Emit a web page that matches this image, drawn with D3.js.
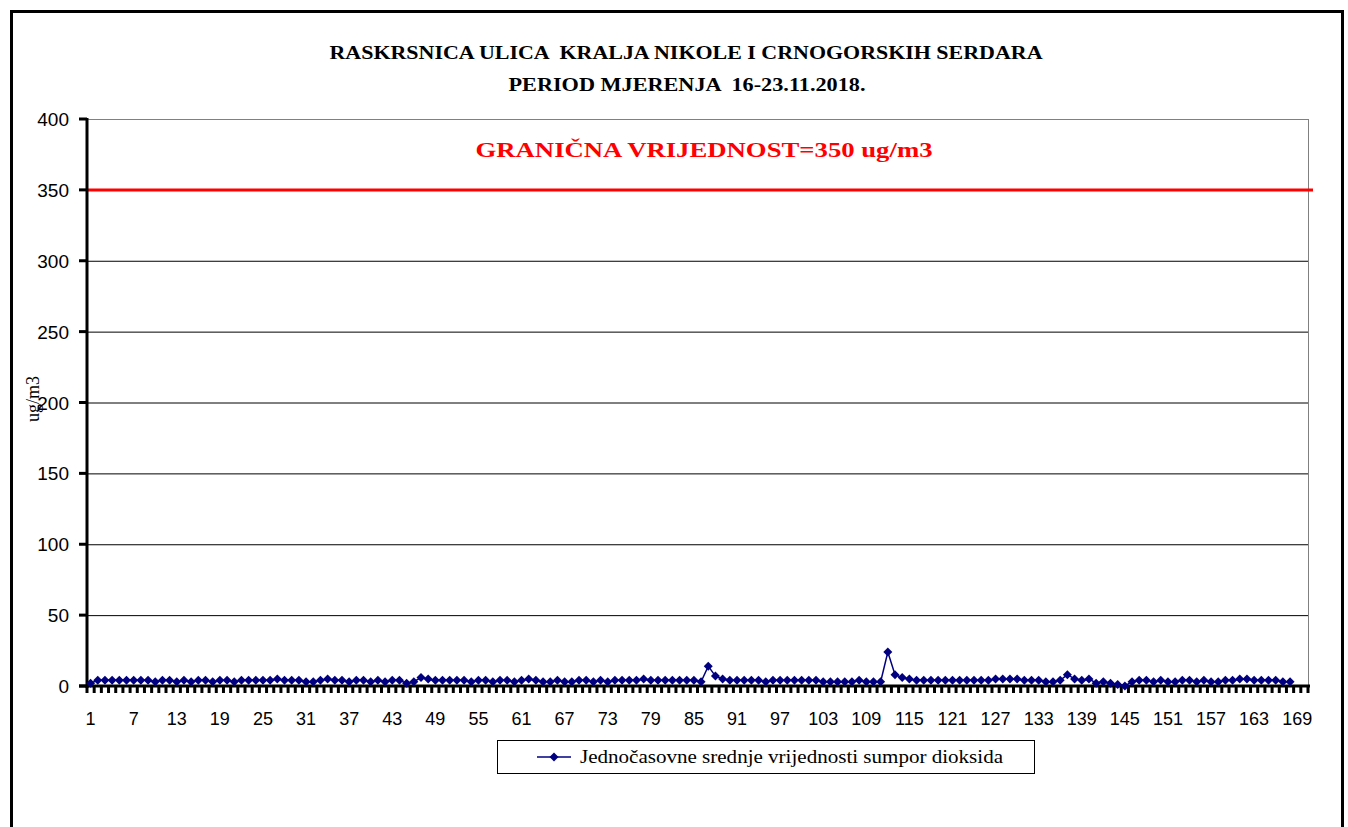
<!DOCTYPE html>
<html>
<head>
<meta charset="utf-8">
<script src="https://cdn.jsdelivr.net/npm/d3@7"></script>
<style>
body{margin:0;background:#fff}
svg{display:block}
</style>
</head>
<body>
<svg id="canvas" width="1348" height="827"></svg>
<script>
// hourly SO2 values, 16-23.11.2018 (168 hours)
let so2=[
 2,4,4,4,4,4,4,4,4,3,4,4,3,4,3,4,4,3,4,4,
 3,4,4,4,4,4,5,4,4,4,3,3,4,5,4,4,3,4,4,3,
 4,3,4,4,2,3,6,5,4,4,4,4,4,3,4,4,3,4,4,3,
 4,5,4,3,3,4,3,3,4,4,3,4,3,4,4,4,4,5,4,4,
 4,4,4,4,4,3,14,7,5,4,4,4,4,4,3,4,4,4,4,4,
 4,4,3,3,3,3,3,4,3,3,3,24,8,6,5,4,4,4,4,4,
 4,4,4,4,4,4,5,5,5,5,4,4,4,3,3,4,8,5,4,5,
 2,3,2,1,0,3,4,4,3,4,3,3,4,4,3,4,3,3,4,4,
 5,5,4,4,4,4,3,3
]
let categories=d3.range(1,171)
let xlabels=[1,7,13,19,25,31,37,43,49,55,61,67,73,79,85,91,97,103,109,115,121,127,133,139,145,151,157,163,169]
let yticks=[0,50,100,150,200,250,300,350,400]
let limit=350
let title1="RASKRSNICA ULICA  KRALJA NIKOLE I CRNOGORSKIH SERDARA"
let title2="PERIOD MJERENJA  16-23.11.2018."
let limitText="GRANIČNA VRIJEDNOST=350 ug/m3"
let seriesName="Jednočasovne srednje vrijednosti sumpor dioksida"

let canvas=d3.select("#canvas")
const plotLeft=87,plotRight=1308,plotTop=119,plotBottom=686
const navy="#000080"

let draw=()=>{
    canvas.append("rect").attr("width",1348).attr("height",827).attr("fill","#fff")
    // outer frame
    canvas.append("rect").attr("x",11.5).attr("y",11.5).attr("width",1331).attr("height",900)
          .attr("fill","none").attr("stroke","#000").attr("stroke-width",3)

    canvas.append("text").attr("x",686).attr("y",59).attr("text-anchor","middle")
          .attr("font-family","Liberation Serif").attr("font-weight","bold").attr("font-size",18)
          .attr("textLength",713).attr("lengthAdjust","spacingAndGlyphs").attr("xml:space","preserve")
          .text(title1)
    canvas.append("text").attr("x",687).attr("y",91).attr("text-anchor","middle")
          .attr("font-family","Liberation Serif").attr("font-weight","bold").attr("font-size",18)
          .attr("textLength",357).attr("lengthAdjust","spacingAndGlyphs").attr("xml:space","preserve")
          .text(title2)

    const x=d3.scaleBand().domain(categories).range([plotLeft,plotRight])
    const y=d3.scaleLinear().domain([0,400]).range([plotBottom,plotTop])

    // gridlines
    canvas.selectAll(".grid").data(yticks.filter(d=>d>0&&d<400)).enter().append("line")
          .attr("x1",plotLeft).attr("x2",plotRight).attr("y1",d=>y(d)+0.5).attr("y2",d=>y(d)+0.5)
          .attr("stroke","#000").attr("stroke-width",1)
    canvas.append("line").attr("x1",plotLeft).attr("x2",plotRight).attr("y1",y(400)+0.5).attr("y2",y(400)+0.5)
          .attr("stroke","#808080")
    canvas.append("line").attr("x1",plotRight+0.5).attr("x2",plotRight+0.5).attr("y1",plotTop).attr("y2",plotBottom)
          .attr("stroke","#808080")

    // limit line
    canvas.append("line").attr("x1",plotLeft).attr("x2",1313).attr("y1",y(limit)).attr("y2",y(limit))
          .attr("stroke","#ff0000").attr("stroke-width",3)
    canvas.append("text").attr("x",704).attr("y",157).attr("text-anchor","middle")
          .attr("font-family","Liberation Serif").attr("font-weight","bold").attr("font-size",22)
          .attr("fill","#ff0000").attr("textLength",457).attr("lengthAdjust","spacingAndGlyphs")
          .text(limitText)

    // y axis
    canvas.append("line").attr("x1",plotLeft).attr("x2",plotLeft).attr("y1",plotTop-1).attr("y2",plotBottom+2)
          .attr("stroke","#000").attr("stroke-width",3)
    canvas.selectAll(".ytick").data(yticks).enter().append("line")
          .attr("x1",79).attr("x2",plotLeft).attr("y1",d=>y(d)).attr("y2",d=>y(d))
          .attr("stroke","#000").attr("stroke-width",3)
    canvas.selectAll(".ylab").data(yticks).enter().append("text")
          .attr("x",69).attr("y",d=>y(d)+7).attr("text-anchor","end")
          .attr("font-family","Liberation Sans").attr("font-size",19)
          .text(d=>d)
    canvas.append("text").attr("transform","translate(39,399) rotate(-90)").attr("text-anchor","middle")
          .attr("font-family","Liberation Serif").attr("font-size",18).text("ug/m3")

    // x axis
    canvas.append("line").attr("x1",plotLeft-8).attr("x2",plotRight+2).attr("y1",plotBottom).attr("y2",plotBottom)
          .attr("stroke","#000").attr("stroke-width",3)
    let bounds=categories.map(c=>x(c)).concat([plotRight])
    canvas.selectAll(".xtick").data(bounds).enter().append("line")
          .attr("x1",d=>d).attr("x2",d=>d).attr("y1",plotBottom).attr("y2",plotBottom+7)
          .attr("stroke","#000").attr("stroke-width",3)
    canvas.selectAll(".xlab").data(xlabels).enter().append("text")
          .attr("x",d=>x(d)+x.bandwidth()/2).attr("y",725).attr("text-anchor","middle")
          .attr("font-family","Liberation Sans").attr("font-size",18)
          .text(d=>d)

    // series
    const px=(d,i)=>x(categories[i])+x.bandwidth()/2
    const line=d3.line().x(px).y(d=>y(d))
    canvas.append("path").datum(so2).attr("d",line).attr("fill","none")
          .attr("stroke",navy).attr("stroke-width",1.5)
    const diamond="M0,-4.5L4.5,0L0,4.5L-4.5,0Z"
    canvas.selectAll(".pt").data(so2).enter().append("path")
          .attr("d",diamond).attr("fill",navy)
          .attr("transform",(d,i)=>`translate(${px(d,i)},${y(d)})`)

    // legend
    canvas.append("rect").attr("x",497.5).attr("y",740.5).attr("width",537).attr("height",33)
          .attr("fill","#fff").attr("stroke","#000")
    canvas.append("line").attr("x1",537).attr("x2",571).attr("y1",757).attr("y2",757)
          .attr("stroke",navy).attr("stroke-width",1.5)
    canvas.append("path").attr("d",diamond).attr("fill",navy).attr("transform","translate(554,757)")
    canvas.append("text").attr("x",580).attr("y",763)
          .attr("font-family","Liberation Serif").attr("font-size",18)
          .attr("textLength",423).attr("lengthAdjust","spacingAndGlyphs")
          .text(seriesName)
}

draw()
</script>
</body>
</html>
